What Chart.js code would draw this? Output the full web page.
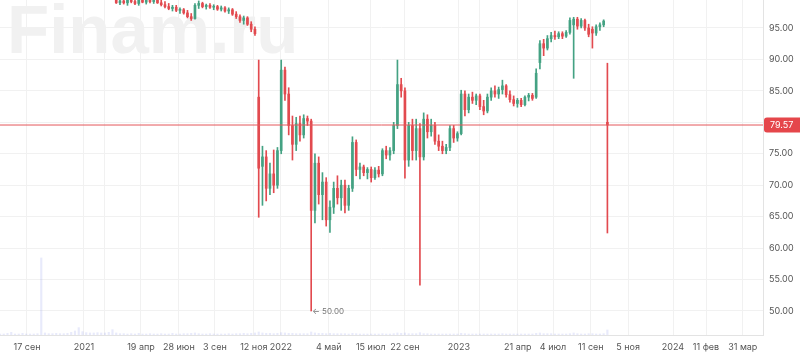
<!DOCTYPE html>
<html><head><meta charset="utf-8">
<script src="https://cdn.jsdelivr.net/npm/chart.js@4/dist/chart.umd.min.js"></script>
<style>html,body{margin:0;padding:0;background:#fff;overflow:hidden}#wrap{width:800px;height:361px;position:relative}</style>
</head><body><div id="wrap"><canvas id="c"></canvas></div>
<script>
// slot index of the first candle (one slot ≈ one trading week)
const firstSlot = 31;
const open = [99.6,99.0,99.3,99.0,99.4,99.2,98.9,99.5,99.1,99.4,99.2,99.5,99.0,98.7,98.4,98.1,98.3,97.8,97.9,97.4,96.8,96.5,98.6,98.9,98.4,98.6,98.3,98.4,98.0,98.2,97.7,97.9,97.2,96.8,96.2,96.6,95.6,94.8,
84.0,73.0,74.5,69.5,71.8,70.0,75.5,88.3,84.5,79.5,76.5,79.8,78.0,80.6,80.2,66.0,73.5,68.5,70.5,64.5,66.5,69.5,68.0,70.0,66.8,69.5,76.8,72.5,72.9,72.0,72.5,71.2,72.4,71.8,75.5,74.8,75.5,79.5,86.0,85.0,74.0,79.5,75.5,79.0,74.5,80.5,78.5,79.5,77.0,76.2,75.5,76.0,79.0,77.5,78.2,84.5,82.0,84.0,83.5,84.2,82.5,81.8,84.0,85.0,84.5,85.2,85.8,84.4,83.6,83.0,83.5,82.8,84.0,84.3,84.0,89.5,92.5,91.8,93.3,93.8,93.6,94.1,93.7,94.3,95.5,96.4,95.3,96.2,95.0,94.8,94.2,95.2,95.5,80.0];
const high = [100.2,99.8,99.9,99.6,100.0,99.8,99.7,100.0,99.7,100.1,99.9,99.9,99.5,99.2,98.9,98.6,98.6,98.2,98.1,97.8,97.3,98.9,99.3,99.1,98.8,98.9,98.7,98.6,98.5,98.4,98.2,98.1,97.6,97.1,96.9,96.8,96.0,95.2,
89.9,76.2,75.5,73.5,75.6,76.0,89.9,88.8,85.5,81.0,80.8,81.0,81.2,81.0,80.5,75.0,74.5,72.0,71.2,67.5,70.5,71.5,70.8,70.8,70.0,77.7,77.2,73.5,73.2,72.8,72.9,72.8,73.0,75.8,76.2,76.0,80.0,89.9,87.0,85.5,80.0,80.5,80.5,79.8,81.5,81.2,80.5,80.0,78.0,77.0,76.5,79.5,79.5,78.5,85.1,85.0,84.5,84.8,84.5,84.5,83.5,84.5,85.5,85.8,85.6,86.7,86.0,85.0,84.2,83.8,83.8,84.2,84.6,84.6,88.5,93.0,93.2,93.8,94.3,94.5,94.4,94.4,94.6,96.6,96.7,96.7,96.5,96.4,95.6,95.2,95.5,95.8,96.3,89.4];
const low = [98.9,98.7,98.8,98.6,99.0,98.7,98.6,99.0,98.8,99.0,98.9,98.9,98.5,98.2,97.9,97.7,97.6,97.3,97.2,96.6,96.2,96.4,98.1,98.2,98.0,98.1,97.9,97.8,97.7,97.5,97.3,97.0,96.5,95.9,95.6,95.4,94.4,93.8,
64.9,66.8,67.5,68.5,68.8,69.5,75.0,83.5,78.0,74.0,75.5,77.0,77.5,79.5,50.0,64.0,67.0,64.5,63.5,62.5,65.5,67.0,66.0,65.6,66.0,69.0,71.5,71.0,71.5,71.0,70.5,70.9,71.3,71.5,74.2,74.0,75.0,79.0,84.0,71.1,73.0,74.0,74.0,54.1,74.0,77.5,77.8,76.5,75.5,75.0,75.0,75.5,76.8,77.0,78.0,81.0,81.5,83.0,82.8,82.0,81.2,81.5,83.5,84.0,83.8,84.5,84.0,83.2,82.6,82.4,82.5,82.6,83.4,83.5,83.8,88.5,90.6,91.5,92.8,93.2,93.3,93.3,93.5,94.0,87.0,94.8,95.0,94.6,93.6,91.8,93.8,94.6,95.2,62.4];
const close = [99.0,99.3,99.0,99.4,99.2,98.9,99.5,99.1,99.4,99.2,99.5,99.0,98.7,98.4,98.1,98.3,97.8,97.9,97.4,96.8,96.5,98.6,98.9,98.4,98.6,98.3,98.4,98.0,98.2,97.7,97.9,97.2,96.8,96.2,96.6,95.6,94.8,94.1,
72.7,74.5,69.5,71.8,70.0,75.5,88.3,84.5,79.5,76.5,79.8,78.0,80.6,80.2,66.0,73.5,68.5,70.5,64.5,66.5,69.5,68.0,70.0,66.8,69.5,76.8,72.5,72.9,72.0,72.5,71.2,72.4,71.8,75.5,74.8,75.5,79.5,86.0,85.0,74.0,79.5,75.5,79.0,74.5,80.5,78.5,79.5,77.0,76.2,75.5,76.0,79.0,77.5,78.2,84.5,82.0,84.0,83.5,84.2,82.5,81.8,84.0,85.0,84.5,85.2,85.8,84.4,83.6,83.0,83.5,82.8,84.0,84.3,83.8,87.8,92.5,91.8,93.3,93.8,93.6,94.1,93.7,94.3,96.2,96.4,95.3,96.2,95.0,94.0,94.2,95.2,95.5,96.1,79.57];
// volume per slot, starting at slot 0 (hidden scale 0..100)
const volume = [0.3,0.3,0.5,0.8,0.3,0.3,0.5,0.3,0.3,0.3,
0.4,23,0.6,0.4,0.4,0.5,0.4,0.4,0.5,0.8,
1.2,2.2,1.0,0.7,0.6,0.6,0.7,0.6,0.6,0.8,
1.6,0.6,0.4,0.4,0.3,0.4,0.3,0.5,0.3,0.3,
0.4,0.3,0.3,0.4,0.3,0.3,0.5,0.3,0.3,0.4,
0.4,0.5,0.6,0.4,0.3,0.3,0.4,0.3,0.3,0.3,
0.3,0.4,0.3,0.4,0.4,0.5,0.4,0.5,0.6,0.9,
0.6,0.5,0.5,0.4,0.5,0.7,0.6,0.5,0.5,0.4,
0.4,0.4,0.4,0.9,0.6,0.5,0.5,0.4,0.5,0.4,
0.4,0.4,0.4,0.3,0.5,0.4,0.3,0.3,0.3,0.3,
0.3,0.3,0.4,0.3,0.3,0.4,0.6,0.5,0.6,0.4,
0.4,0.4,0.7,0.4,0.4,0.3,0.3,0.3,0.3,0.3,
0.3,0.3,0.3,0.5,0.4,0.3,0.3,0.3,0.3,0.3,
0.3,0.3,0.3,0.3,0.4,0.3,0.3,0.3,0.3,0.3,
0.3,0.3,0.3,0.5,0.6,0.4,0.4,0.4,0.3,0.3,
0.3,0.3,0.4,0.6,0.4,0.3,0.3,0.4,0.4,0.3,
0.3,0.4,1.5];
const lastPrice = 79.57;
const yTicks = [50,55,60,65,70,75,80,85,90,95];
const xTickPos = [7.2,22.4,28,37.6,47.7,57.3,67.7,74.9,87.7,98.9,108,122.4,128,138.1,147.5,157.6,167.5,179.5,188.3,198.1];
const xTickLabels = ['17 сен','2021','','19 апр','28 июн','3 сен','12 ноя','2022','4 май','15 июл','22 сен','2023','','21 апр','4 июл','11 сен','5 ноя','2024','11 фев','31 мар'];
const xMin = 0, xMax = 203.5, yMin = 46.18, yMax = 99.45;

const GREEN = '#44a283', RED = '#e24a4f';
const colors = open.map((o,i)=> close[i] >= o ? GREEN : RED);
const wickData = open.map((o,i)=>({x:firstSlot+i, y:[low[i], high[i]]}));
const bodyData = open.map((o,i)=>({x:firstSlot+i, y:[o, close[i]]}));
const volData = volume.map((v,i)=>({x:i, y:v}));

const fontFam = 'Inter, Roboto, "DejaVu Sans", sans-serif';

const watermark = {
  id:'wm',
  beforeDatasetsDraw(chart){
    const ctx = chart.ctx; ctx.save();
    ctx.font = 'bold 69px "Liberation Sans", Arial, sans-serif';
    ctx.fillStyle = '#f1f1f1'; ctx.textBaseline = 'alphabetic';
    ctx.fillText('Finam.ru', 7, 53);
    ctx.restore();
  }
};
const overlay = {
  id:'ov',
  afterDraw(chart){
    const ctx = chart.ctx, ys = chart.scales.y, xs = chart.scales.x, ca = chart.chartArea;
    ctx.save();
    let mi = 0; low.forEach((v,i)=>{ if (v < low[mi]) mi = i; });
    const px = xs.getPixelForValue(firstSlot+mi), py = ys.getPixelForValue(low[mi]);
    ctx.fillStyle = '#777'; ctx.font = '8px ' + fontFam; ctx.textBaseline = 'middle'; ctx.textAlign='left';
    ctx.fillText('← ' + low[mi].toFixed(2), px + 1, py + 1);
    const by = ys.getPixelForValue(lastPrice);
    const bx = ca.right + 1;
    ctx.fillStyle = '#e5464b';
    ctx.beginPath();
    if (ctx.roundRect) ctx.roundRect(bx, by - 7.5, chart.width - bx + 4, 15, 3); else ctx.rect(bx, by-7.5, chart.width-bx, 15);
    ctx.fill();
    ctx.fillStyle = '#fff'; ctx.font = '9px ' + fontFam;
    ctx.fillText(lastPrice.toFixed(2), bx + 6, by + 0.5);
    ctx.restore();
  }
};

new Chart(document.getElementById('c'), {
  type:'bar',
  data:{
    datasets:[
      {type:'line', data:[{x:xMin,y:lastPrice},{x:xMax,y:lastPrice}], borderColor:'#e4575b', borderWidth:1, pointRadius:0, order:0, xAxisID:'x', yAxisID:'y'},
      {data:bodyData, backgroundColor:colors, barThickness:2, grouped:false, minBarLength:1, order:1, xAxisID:'x', yAxisID:'y'},
      {data:wickData, backgroundColor:colors, barThickness:1, grouped:false, order:2, xAxisID:'x', yAxisID:'y'},
      {data:volData, backgroundColor:'rgba(150,160,235,0.22)', barThickness:1.5, grouped:false, order:3, xAxisID:'x', yAxisID:'yv'}
    ]
  },
  options:{
    responsive:true, maintainAspectRatio:false, animation:false, devicePixelRatio:1,
    layout:{padding:0},
    plugins:{legend:{display:false}, tooltip:{enabled:false}},
    scales:{
      x:{type:'linear', min:xMin, max:xMax, offset:false,
        grid:{color:'#f1f1f1', offset:false, drawTicks:false},
        border:{display:true, color:'#e3e3e3'},
        ticks:{autoSkip:false, maxRotation:0, minRotation:0, padding:7, color:'#555', font:{family:fontFam, size:9},
          callback:(v,i)=>xTickLabels[i]},
        afterBuildTicks:s=>{ s.ticks = xTickPos.map(v=>({value:v})); },
        afterFit:s=>{ s.height = 26; s.paddingLeft = 0; s.paddingRight = 0; }
      },
      y:{position:'right', min:yMin, max:yMax,
        grid:{color:'#f1f1f1', drawTicks:false},
        border:{display:true, color:'#e3e3e3'},
        ticks:{padding:6, color:'#555', font:{family:fontFam, size:9},
          callback:v=> v===80 ? '' : Number(v).toFixed(2)},
        afterBuildTicks:s=>{ s.ticks = yTicks.map(v=>({value:v})); },
        afterFit:s=>{ s.width = 37; s.paddingTop = 0; s.paddingBottom = 0; }
      },
      yv:{display:false, min:0, max:100}
    }
  },
  plugins:[watermark, overlay]
});
</script></body></html>
